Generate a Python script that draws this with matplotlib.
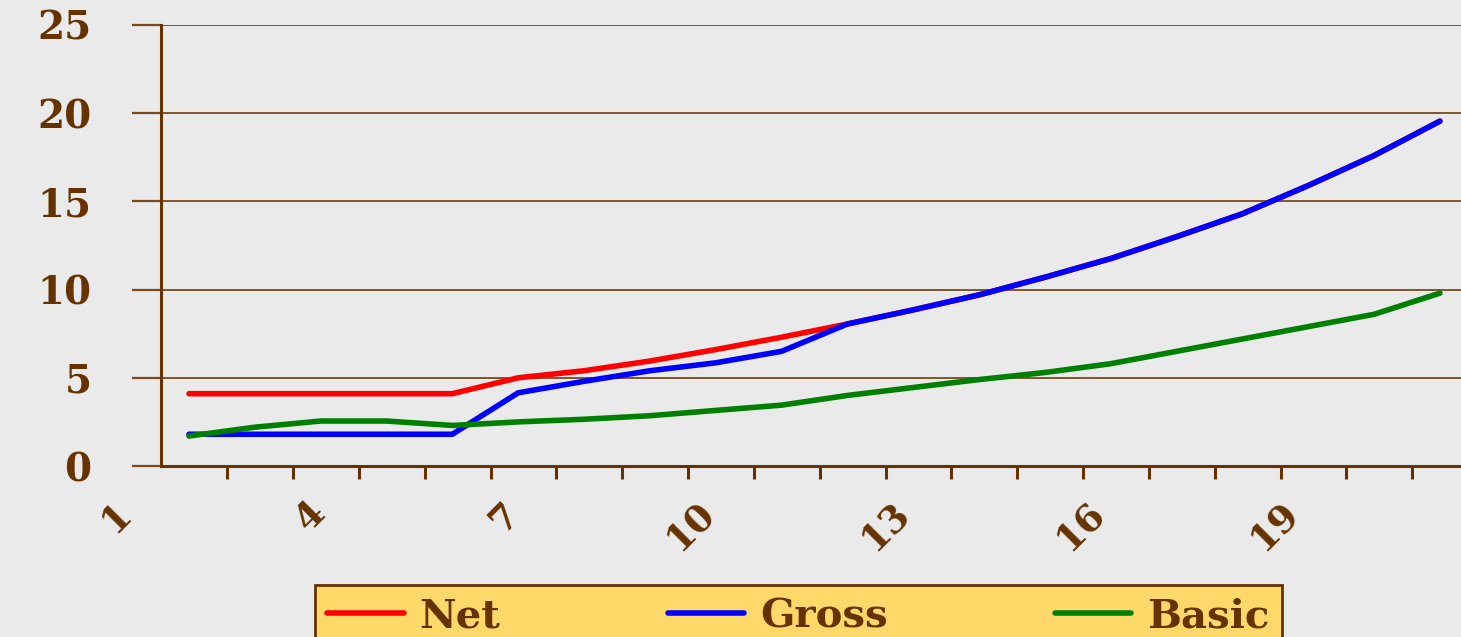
import matplotlib
matplotlib.use("Agg")
import matplotlib.pyplot as plt
import matplotlib.transforms as mtransforms
import numpy as np

# periods 1..20
periods = list(range(1, 21))
net = [4.1, 4.1, 4.1, 4.1, 4.1, 5.0, 5.4, 5.95, 6.6, 7.3,
       8.05, 8.85, 9.7, 10.7, 11.76, 13.0, 14.3, 15.9, 17.6, 19.55]
gross = [1.8, 1.8, 1.8, 1.8, 1.8, 4.15, 4.8, 5.4, 5.85, 6.5,
         8.05, 8.85, 9.7, 10.7, 11.76, 13.0, 14.3, 15.9, 17.6, 19.55]
basic = [1.7, 2.2, 2.55, 2.55, 2.3, 2.5, 2.65, 2.85, 3.15, 3.45,
         4.0, 4.45, 4.9, 5.3, 5.8, 6.5, 7.2, 7.9, 8.6, 9.8]
xlabels = [1, 4, 7, 10, 13, 16, 19]
yticks = [0, 5, 10, 15, 20, 25]

brown = '#663300'
grid_brown = '#7a4a1c'
font = dict(family='DejaVu Serif', weight='bold', color=brown)

fig = plt.figure(figsize=(14.61, 6.37), dpi=100)
fig.patch.set_facecolor('#eaeaea')
ax = fig.add_axes([161 / 1461, 1 - 466 / 637, 1 - 161 / 1461, (466 - 25) / 637])
ax.set_facecolor('#eaeaea')

ax.plot(periods, net, color='#ff0000', lw=4, solid_capstyle='round', label='Net')
ax.plot(periods, gross, color='#0000ff', lw=4, solid_capstyle='round', label='Gross')
ax.plot(periods, basic, color='#008000', lw=4, solid_capstyle='round', label='Basic')

for s in ['top', 'right']:
    ax.spines[s].set_visible(False)
for s in ['left', 'bottom']:
    ax.spines[s].set_color(brown)
    ax.spines[s].set_linewidth(2.2)

ax.set_yticks(yticks)
ax.set_yticklabels([str(v) for v in yticks], fontsize=28, **font)
ax.tick_params(axis='y', direction='out', length=21, width=1.6, color=grid_brown, pad=29)
ax.yaxis.grid(True, color=grid_brown, lw=1.3)
ax.set_axisbelow(True)

# tick marks between categories, labels every third one
ax.set_xticks(np.arange(1, 21) - 0.42, minor=True)
ax.tick_params(axis='x', which='minor', direction='out', length=9, width=2.2, color=brown)
ax.set_xticks(np.array(xlabels) * 0.985 - 0.405)
ax.set_xticklabels([str(v) for v in xlabels], fontsize=27, rotation=45,
                   ha='right', va='center', rotation_mode='anchor', **font)
ax.tick_params(axis='x', which='major', length=0, pad=30)
shift = mtransforms.ScaledTranslation(-0.36, 0, fig.dpi_scale_trans)
for lab in ax.get_xticklabels():
    lab.set_transform(lab.get_transform() + shift)

ax.set_xlim(0.575, 20.32)
ax.set_ylim(0, 25)

leg = fig.legend(loc='upper left',
                 bbox_to_anchor=(315 / 1461, 1 - 585 / 637, (1282 - 315) / 1461, 0),
                 mode='expand', borderaxespad=0, ncol=3, frameon=True, fancybox=False,
                 handlelength=1.9, handletextpad=0.4, columnspacing=1.0,
                 borderpad=0.3, prop=dict(family='DejaVu Serif', weight='bold', size=29))
leg.get_frame().set_facecolor('#ffd86a')
leg.get_frame().set_edgecolor(brown)
leg.get_frame().set_linewidth(2)
leg.get_frame().set_alpha(1)
for t in leg.get_texts():
    t.set_color(brown)

fig.savefig('out.png', dpi=100, facecolor=fig.get_facecolor())
